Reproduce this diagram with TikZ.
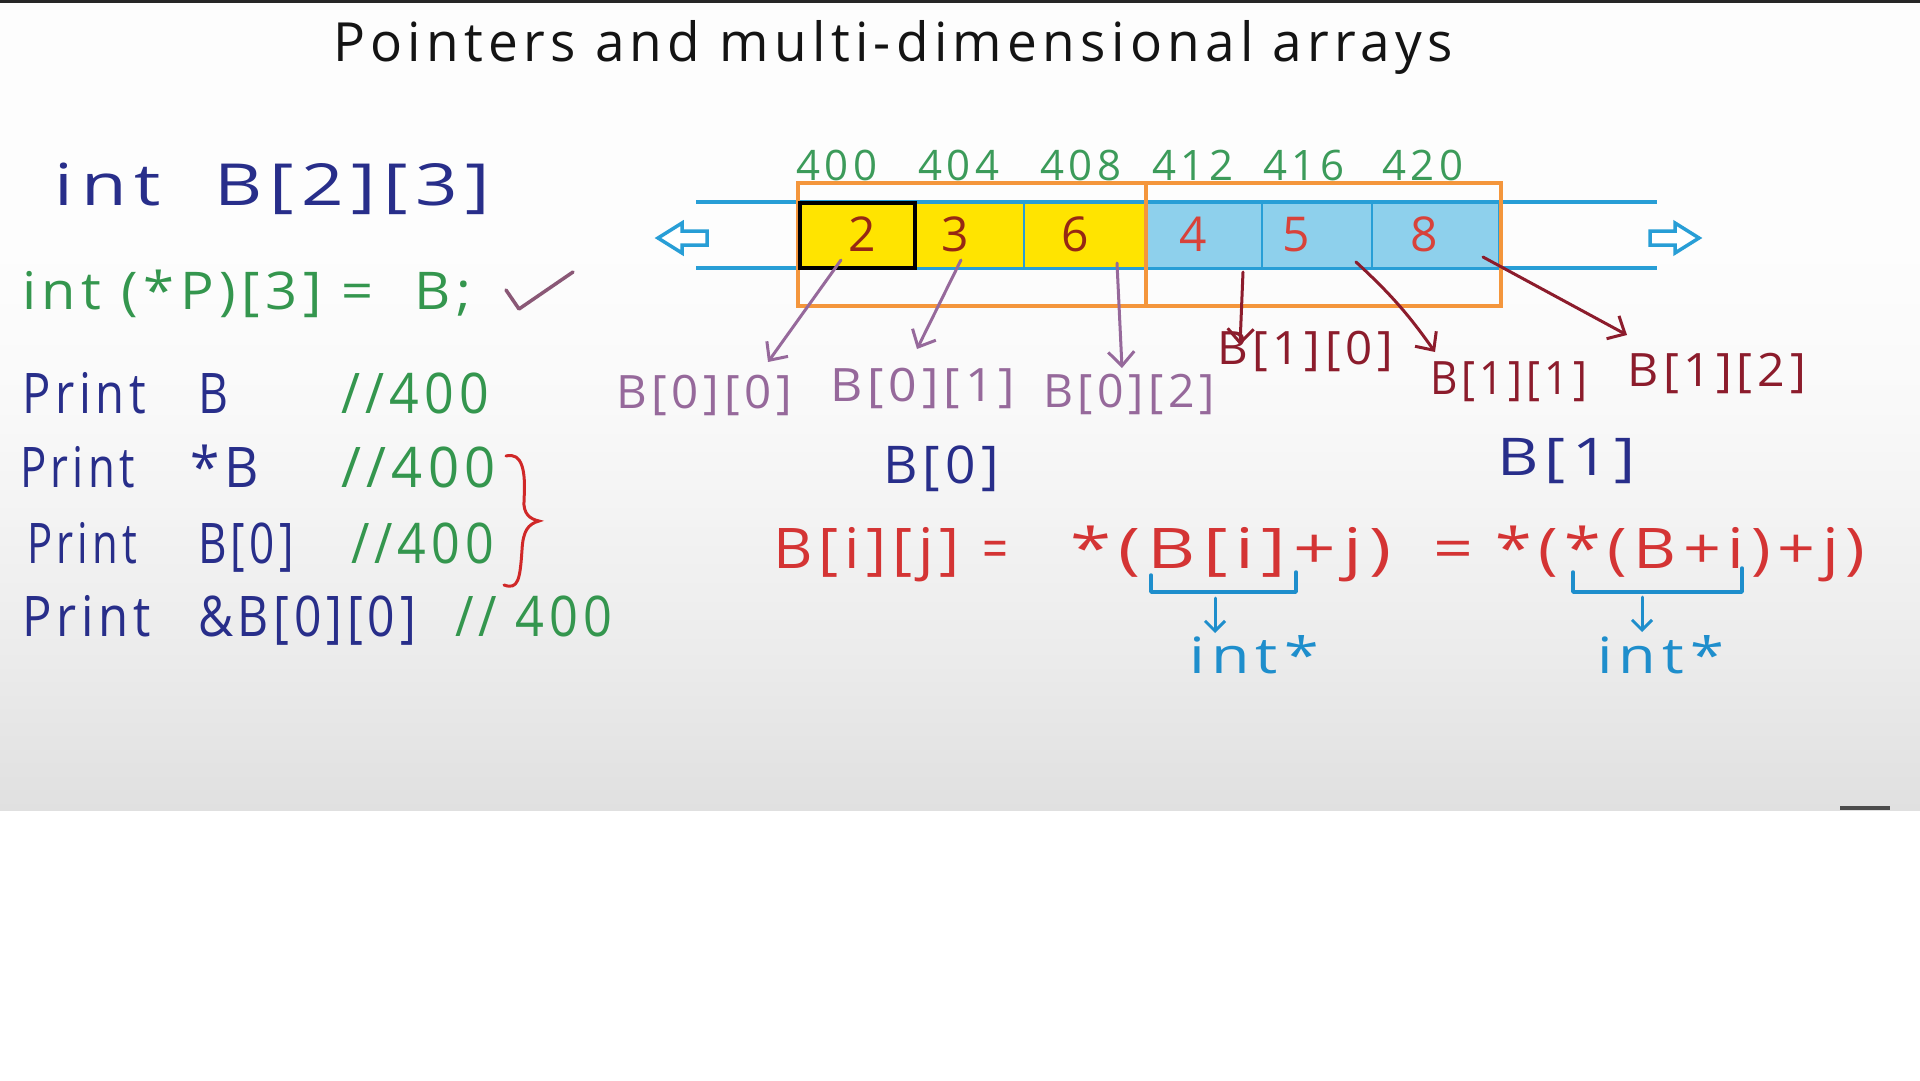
\documentclass[tikz,border=0pt]{standalone}
\usepackage{fontspec}
\usepackage{graphicx}
\setmainfont{Open Sans}
\newfontfamily\hand[LetterSpace=10]{Open Sans}
\usetikzlibrary{arrows.meta}
\definecolor{inknavy}{RGB}{40,46,138}
\definecolor{inkgreen}{RGB}{52,150,78}
\definecolor{inkaddr}{RGB}{60,155,90}
\definecolor{inkred}{RGB}{212,52,52}
\definecolor{inkbrace}{RGB}{208,40,40}
\definecolor{inkmauve}{RGB}{150,105,155}
\definecolor{inkcheck}{RGB}{138,88,118}
\definecolor{inkmaroon}{RGB}{140,28,44}
\definecolor{inkcyan}{RGB}{30,142,204}
\definecolor{trackblue}{RGB}{40,158,214}
\definecolor{cellblue}{RGB}{142,208,236}
\definecolor{cellyellow}{RGB}{255,228,0}
\definecolor{boxorange}{RGB}{244,150,60}
\definecolor{numdark}{RGB}{150,40,20}
\definecolor{numred}{RGB}{216,66,58}
\definecolor{bgA}{RGB}{196,196,196}
\definecolor{bgB}{RGB}{204,204,204}
\definecolor{bgC}{RGB}{218,218,218}
\definecolor{bgD}{RGB}{236,236,236}
\definecolor{bgE}{RGB}{249,249,249}
\definecolor{bgF}{RGB}{253,253,253}
\definecolor{bgG}{RGB}{243,243,243}
\pgfdeclareverticalshading{framebg}{100bp}{color(0bp)=(bgA); color(8bp)=(bgB); color(20bp)=(bgC); color(35bp)=(bgD); color(50bp)=(bgE); color(60bp)=(bgF); color(88bp)=(bgF); color(100bp)=(bgG)}
\newcommand{\fs}[1]{\fontsize{#1}{#1}\selectfont\hand}
\newcommand{\fitto}[2]{\resizebox{#1pt}{\height}{#2}}
\tikzset{
  txt/.style={inner sep=0pt, outer sep=0pt, anchor=base west},
  ctxt/.style={inner sep=0pt, outer sep=0pt, anchor=base},
  cellY/.style={draw=trackblue, line width=2.5pt, fill=cellyellow, anchor=north west, minimum height=65pt, inner sep=0pt, outer sep=0pt},
  cellB/.style={cellY, fill=cellblue},
  track/.style={draw=trackblue, line width=4pt},
  orangebox/.style={draw=boxorange, line width=4pt},
  hollow/.style={draw=trackblue, line width=3.5pt, fill=white, line join=miter},
  ptr/.style={line width=3pt, line cap=round, -{Straight Barb[length=14pt,width=26pt]}},
  ptrP/.style={ptr, draw=inkmauve},
  ptrM/.style={ptr, draw=inkmaroon},
  cyanbr/.style={draw=inkcyan, line width=3.5pt, line cap=round, line join=round},
  smallarr/.style={draw=inkcyan, line width=3pt, line cap=round, -{Straight Barb[length=10pt,width=20pt]}},
}
\begin{document}
\begin{tikzpicture}[x=1pt,y=-1pt]
\useasboundingbox (0,0) rectangle (1920,1080);
\fill[white] (0,0) rectangle (1920,1080);
\shade[shading=framebg] (0,0) rectangle (1920,810);
\fill[black!85] (0,0) rectangle (1920,2.5);
\fill[black!70] (1840,806) rectangle (1890,810);

% title
\node[txt,text=black!92] (title) at (333,61) {\fs{54}\fitto{1120}{Pointers and multi-dimensional arrays}};

% left column
\node[txt,text=inknavy] (decl) at (55,205) {\fs{58}\fitto{435}{int\ \ B[2][3]}};
\node[txt,text=inkgreen] (pdecl) at (22,309) {\fs{52}\fitto{449}{int (*P)[3] = \ B;}};
\draw[inkcheck, line width=3.5pt, line cap=round, line join=round] (506,290) -- (519,309) -- (573,272);

\node[txt,text=inknavy] (p1) at (22,413) {\fs{56}\fitto{124}{Print}};
\node[txt,text=inknavy] (x1) at (198,413) {\fs{56}\fitto{30}{B}};
\node[txt,text=inkgreen] (k1) at (341,413) {\fs{56}\fitto{148}{//400}};

\node[txt,text=inknavy] (p2) at (20,487) {\fs{56}\fitto{115}{Print}};
\node[txt,text=inknavy] (x2) at (190,487) {\fs{56}\fitto{69}{*B}};
\node[txt,text=inkgreen] (k2) at (341,487) {\fs{56}\fitto{155}{//400}};

\node[txt,text=inknavy] (p3) at (27,563) {\fs{56}\fitto{110}{Print}};
\node[txt,text=inknavy] (x3) at (198,563) {\fs{56}\fitto{96}{B[0]}};
\node[txt,text=inkgreen] (k3) at (351,563) {\fs{56}\fitto{143}{//400}};

\node[txt,text=inknavy] (p4) at (22,636) {\fs{56}\fitto{129}{Print}};
\node[txt,text=inknavy] (x4) at (198,636) {\fs{56}\fitto{218}{\&B[0][0]}};
\node[txt,text=inkgreen] (k4) at (455,636) {\fs{56}\fitto{157}{// 400}};

\draw[inkbrace, line width=3pt, line cap=round] (506,456) .. controls (522,452) and (526,470) .. (524,500) .. controls (523,514) and (530,519) .. (539,521) .. controls (528,524) and (523,531) .. (522,550) .. controls (520,580) and (518,590) .. (504,585);

% track and hollow arrows
\draw[track] (696,202) -- (1657,202);
\draw[track] (696,268) -- (1657,268);
\draw[hollow] (658,238) -- (682,223) -- (682,231) -- (707,231) -- (707,245) -- (682,245) -- (682,253) -- cycle;
\draw[hollow] (1699,238) -- (1675,223) -- (1675,231) -- (1650,231) -- (1650,245) -- (1675,245) -- (1675,253) -- cycle;

% cells
\node[cellY, minimum width=115pt] (m1) at (800,203) {};
\node[cellY, minimum width=109pt] (m2) at (915,203) {};
\node[cellY, minimum width=121pt] (m3) at (1024,203) {};
\node[cellB, minimum width=116pt] (m4) at (1146,203) {};
\node[cellB, minimum width=110pt] (m5) at (1262,203) {};
\node[cellB, minimum width=127pt] (m6) at (1372,203) {};

\draw[orangebox] (798,183) rectangle (1146,306);
\draw[orangebox] (1146,183) rectangle (1501,306);
\draw[black, line width=4pt] (m1.north west) rectangle (m1.south east);

\node[ctxt,text=numdark] (v1) at (862,251) {\fs{48}2};
\node[ctxt,text=numdark] (v2) at (955,251) {\fs{48}3};
\node[ctxt,text=numdark] (v3) at (1075,251) {\fs{48}6};
\node[ctxt,text=numred] (v4) at (1193,251) {\fs{48}4};
\node[ctxt,text=numred] (v5) at (1296,251) {\fs{48}5};
\node[ctxt,text=numred] (v6) at (1424,251) {\fs{48}8};

% addresses
\node[ctxt,text=inkaddr] (a1) at (837,180) {\fs{42}400};
\node[ctxt,text=inkaddr] (a2) at (959,180) {\fs{42}404};
\node[ctxt,text=inkaddr] (a3) at (1081,180) {\fs{42}408};
\node[ctxt,text=inkaddr] (a4) at (1193,180) {\fs{42}412};
\node[ctxt,text=inkaddr] (a5) at (1304,180) {\fs{42}416};
\node[ctxt,text=inkaddr] (a6) at (1423,180) {\fs{42}420};

% element labels
\node[txt,text=inkmauve] (l00) at (616,408) {\fs{46}\fitto{176}{B[0][0]}};
\node[txt,text=inkmauve] (l01) at (830,401) {\fs{46}\fitto{185}{B[0][1]}};
\node[txt,text=inkmauve] (l02) at (1043,407) {\fs{46}\fitto{172}{B[0][2]}};
\node[txt,text=inkmaroon] (l10) at (1217,364) {\fs{46}\fitto{176}{B[1][0]}};
\node[txt,text=inkmaroon] (l11) at (1430,394) {\fs{46}\fitto{157}{B[1][1]}};
\node[txt,text=inkmaroon] (l12) at (1627,386) {\fs{46}\fitto{179}{B[1][2]}};

\node[txt,text=inknavy] (r0) at (883,483) {\fs{52}\fitto{116}{B[0]}};
\node[txt,text=inknavy] (r1) at (1497,475) {\fs{52}\fitto{139}{B[1]}};

% pointer arrows
\coordinate (s1) at (841,260); \coordinate (t1) at (768,362);
\coordinate (s2) at (961,260); \coordinate (t2) at (917,349);
\coordinate (s3) at (1117,263); \coordinate (t3) at (1122,368);
\coordinate (s4) at (1243,272); \coordinate (t4) at (1240,345);
\coordinate (s5) at (1356,262); \coordinate (t5) at (1435,352);
\coordinate (s6) at (1483,257); \coordinate (t6) at (1627,335);
\draw[ptrP] (s1) -- (t1);
\draw[ptrP] (s2) -- (t2);
\draw[ptrP] (s3) -- (t3);
\draw[ptrM] (s4) -- (t4);
\draw[ptrM] (s5) to[bend left=6] (t5);
\draw[ptrM] (s6) -- (t6);

% equation
\node[txt,text=inkred] (q1) at (773,568) {\fs{56}\fitto{187}{B[i][j]}};
\node[txt,text=inkred] (q2) at (982,568) {\fs{56}\fitto{26}{=}};
\node[txt,text=inkred] (q3) at (1070,568) {\fs{56}\fitto{322}{*(B[i]+j)}};
\node[txt,text=inkred] (q4) at (1433,568) {\fs{56}\fitto{40}{=}};
\node[txt,text=inkred] (q5) at (1495,568) {\fs{56}\fitto{370}{*(*(B+i)+j)}};

% type annotations
\draw[cyanbr] (1151,575) -- (1151,592) -- (1296,592) -- (1296,572);
\draw[cyanbr] (1573,572) -- (1573,592) -- (1742,592) -- (1742,568);
\coordinate (u1) at (1215,598); \coordinate (w1) at (1215,633);
\coordinate (u2) at (1642,597); \coordinate (w2) at (1642,632);
\draw[smallarr] (u1) -- (w1);
\draw[smallarr] (u2) -- (w2);
\node[txt,text=inkcyan] (it1) at (1189,673) {\fs{50}\fitto{130}{int*}};
\node[txt,text=inkcyan] (it2) at (1597,673) {\fs{50}\fitto{127}{int*}};
\end{tikzpicture}
\end{document}
